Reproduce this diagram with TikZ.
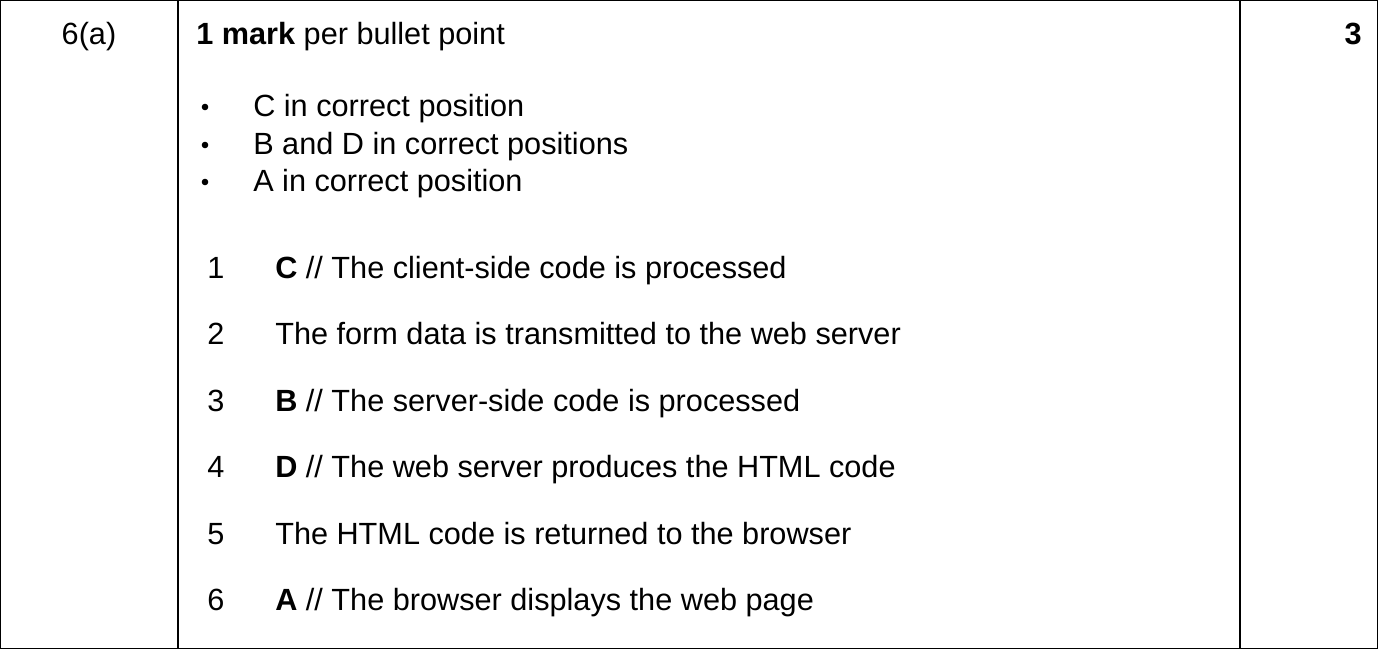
\documentclass[tikz,border=0pt]{standalone}
\usepackage{fontspec}
\setmainfont{Liberation Sans}
\begin{document}
\begin{tikzpicture}[x=0.75pt,y=-0.75pt,
    txt/.style={anchor=base west,inner sep=0pt,font=\fontsize{23}{27}\selectfont},
    num/.style={anchor=base,inner sep=0pt,font=\fontsize{23}{27}\selectfont}]
            \useasboundingbox (0,0) rectangle (1378,649);
            \draw[line width=1pt] (0.5,0.5) rectangle (1377.5,648.5);
            \draw[line width=1pt] (178,0.5) -- (178,648.5);
            \draw[line width=1pt] (1240,0.5) -- (1240,648.5);

            \node[num] (q) at (89,45) {6(a)};
            \node[txt] (head) at (196,45) {\textbf{1 mark} per bullet point};
            \node[num,anchor=base east] (mk) at (1362,45) {\textbf{3}};

            \fill (205,107) circle (3.3);
            \fill (205,145) circle (3.3);
            \fill (205,182) circle (3.3);
            \node[txt] (p1) at (253,117) {C in correct position};
            \node[txt] (p2) at (253,155) {B and D in correct positions};
            \node[txt] (p3) at (253,192) {A in correct position};

            \node[num] (n1) at (216,278) {1};
            \node[num] (n2) at (216,344) {2};
            \node[num] (n3) at (216,411) {3};
            \node[num] (n4) at (216,477) {4};
            \node[num] (n5) at (216,544) {5};
            \node[num] (n6) at (216,610) {6};

            \node[txt] (s1) at (275,278) {\textbf{C} // The client-side code is processed};
            \node[txt] (s2) at (275,344) {The form data is transmitted to the web server};
            \node[txt] (s3) at (275,411) {\textbf{B} // The server-side code is processed};
            \node[txt] (s4) at (275,477) {\textbf{D} // The web server produces the HTML code};
            \node[txt] (s5) at (275,544) {The HTML code is returned to the browser};
            \node[txt] (s6) at (275,610) {\textbf{A} // The browser displays the web page};
\end{tikzpicture}
\end{document}
